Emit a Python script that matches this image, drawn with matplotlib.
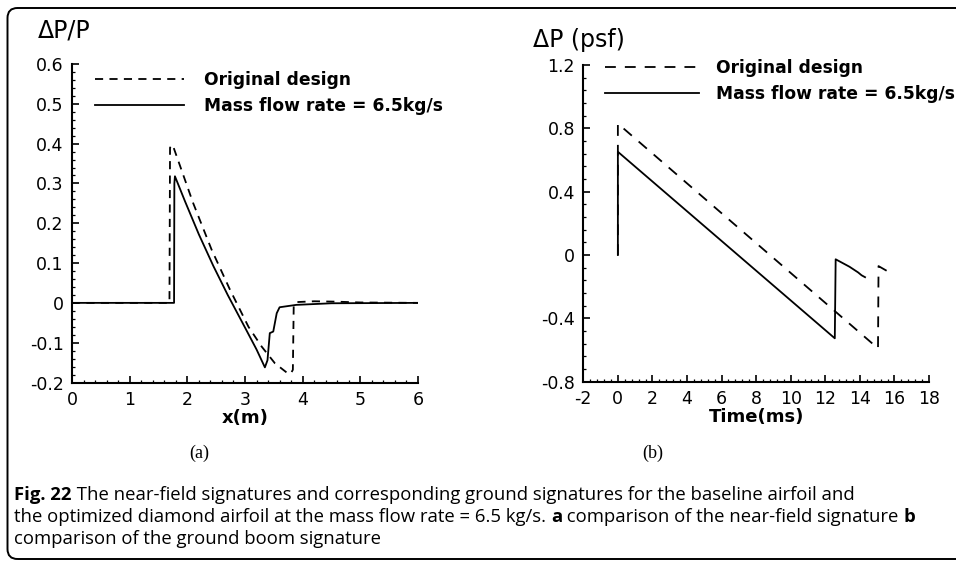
import numpy as np
import matplotlib
matplotlib.use("Agg")
import matplotlib.pyplot as plt
from matplotlib.patches import FancyBboxPatch
from matplotlib.ticker import MultipleLocator

#-------------------------------------
# Data
#-------------------------------------
# (a) near-field signature, dP/P vs x(m)
x_orig = [0, 1.69, 1.70, 1.745, 2.10, 2.42, 2.74, 3.06, 3.29, 3.52, 3.75, 3.80, 3.83, 3.845, 3.90, 4.2, 4.6, 5.0, 6.0]
p_orig = [0, 0, 0.39, 0.397, 0.251, 0.134, 0.033, -0.060, -0.110, -0.152, -0.178, -0.176, -0.168, -0.005, 0.002, 0.004, 0.003, 0.001, 0.0]

x_mass = [0, 1.77, 1.775, 1.785, 1.96, 2.2, 2.45, 2.7, 3.0, 3.2, 3.345, 3.39, 3.43, 3.46, 3.49, 3.55, 3.60, 3.89, 4.5, 6.0]
p_mass = [0, 0, 0.30, 0.318, 0.255, 0.172, 0.093, 0.02, -0.062, -0.117, -0.162, -0.144, -0.076, -0.074, -0.072, -0.026, -0.011, -0.005, -0.001, 0.0]

# (b) ground signature, dP (psf) vs time (ms)
t_orig = [0, 0, 15.0, 15.05, 15.08, 15.8]
dp_orig = [0, 0.83, -0.585, -0.59, -0.07, -0.115]

t_mass = [0, 0, 12.55, 12.6, 13.4, 13.9, 14.1, 14.3]
dp_mass = [0, 0.652, -0.526, -0.027, -0.074, -0.11, -0.128, -0.14]

labels = ["Original design", "Mass flow rate = 6.5kg/s"]

a_xticks = [0, 1, 2, 3, 4, 5, 6]
a_yticks = [-0.2, -0.1, 0, 0.1, 0.2, 0.3, 0.4, 0.5, 0.6]
a_ylabels = ["-0.2", "-0.1", "0", "0.1", "0.2", "0.3", "0.4", "0.5", "0.6"]

b_xticks = [-2, 0, 2, 4, 6, 8, 10, 12, 14, 16, 18]
b_yticks = [-0.8, -0.4, 0, 0.4, 0.8, 1.2]
b_ylabels = ["-0.8", "-0.4", "0", "0.4", "0.8", "1.2"]

caption = [
    [("Fig. 22", True), (" The near-field signatures and corresponding ground signatures for the baseline airfoil and", False)],
    [("the optimized diamond airfoil at the mass flow rate = 6.5 kg/s. ", False), ("a", True),
     (" comparison of the near-field signature ", False), ("b", True)],
    [("comparison of the ground boom signature", False)],
]

#-------------------------------------
# Figure
#-------------------------------------
W, H = 956, 562
fig = plt.figure(figsize=(W / 100, H / 100), dpi=100)

def px_axes(x0, y0, x1, y1):
    # pixel box (top-left origin) -> figure fraction
    return fig.add_axes([x0 / W, 1 - y1 / H, (x1 - x0) / W, (y1 - y0) / H])

ax1 = px_axes(72, 64, 418, 382.5)
ax2 = px_axes(583.3, 65, 929, 381.7)

lw = 1.3

ax1.plot(x_orig, p_orig, color="black", lw=lw, linestyle=(0, (4.5, 3.5)), label=labels[0])
ax1.plot(x_mass, p_mass, color="black", lw=lw, label=labels[1])
ax2.plot(t_orig, dp_orig, color="black", lw=lw, linestyle=(0, (6, 5)), label=labels[0])
ax2.plot(t_mass, dp_mass, color="black", lw=lw, label=labels[1])

ax1.set_xlim(0, 6)
ax1.set_ylim(-0.2, 0.6)
ax1.set_xticks(a_xticks)
ax1.set_yticks(a_yticks)
ax1.set_yticklabels(a_ylabels)
ax1.xaxis.set_minor_locator(MultipleLocator(0.2))
ax1.yaxis.set_minor_locator(MultipleLocator(0.02))

ax2.set_xlim(-2, 18)
ax2.set_ylim(-0.8, 1.2)
ax2.set_xticks(b_xticks)
ax2.set_xticklabels([str(t) for t in b_xticks])
ax2.set_yticks(b_yticks)
ax2.set_yticklabels(b_ylabels)
ax2.xaxis.set_minor_locator(MultipleLocator(0.4))
ax2.yaxis.set_minor_locator(MultipleLocator(0.08))

for ax in (ax1, ax2):
    ax.spines["top"].set_visible(False)
    ax.spines["right"].set_visible(False)
    ax.spines["left"].set_linewidth(1.5)
    ax.spines["bottom"].set_linewidth(1.5)
    ax.tick_params(which="major", direction="in", length=5, width=1.2, labelsize=12.5, pad=6)
    ax.tick_params(which="minor", direction="in", length=2.5, width=0.9)
    for lab in ax.get_xticklabels() + ax.get_yticklabels():
        lab.set_family("DejaVu Sans")

ax1.set_xlabel("x(m)", fontsize=13, fontweight="bold", family="DejaVu Sans", labelpad=0)
ax2.set_xlabel("Time(ms)", fontsize=13, fontweight="bold", family="DejaVu Sans", labelpad=0)

leg_kw = dict(loc="upper left", frameon=False, borderpad=0, borderaxespad=0,
              prop={"family": "DejaVu Sans", "weight": "bold", "size": 12.3}, labelspacing=0.45)
ax1.legend(bbox_to_anchor=(0.066, 0.978), handlelength=5.2, handletextpad=1.2, **leg_kw)
ax2.legend(bbox_to_anchor=(0.063, 1.018), handlelength=5.5, handletextpad=1.0, **leg_kw)

# axis titles above the y axes
fig.text(38 / W, 1 - 38 / H, "\u0394P/P", fontsize=17, family="DejaVu Sans", ha="left", va="baseline")
fig.text(533 / W, 1 - 47 / H, "\u0394P (psf)", fontsize=17, family="DejaVu Sans", ha="left", va="baseline")

# panel letters
fig.text(199 / W, 1 - 453 / H, "(a)", fontsize=13, family="Liberation Serif", ha="center", va="center")
fig.text(653 / W, 1 - 453 / H, "(b)", fontsize=13, family="Liberation Serif", ha="center", va="center")

# caption, drawn piece by piece so bold parts sit inline
renderer = fig.canvas.get_renderer()
line_y = [495, 517, 539]
for segs, yy in zip(caption, line_y):
    xx = 14
    for txt, bold in segs:
        t = fig.text(xx / W, 1 - yy / H, txt, fontsize=13.3, family="Open Sans",
                     fontweight="bold" if bold else "normal", ha="left", va="center")
        xx += t.get_window_extent(renderer).width

# rounded frame around the figure, open on the right
frame = FancyBboxPatch((0.075, 0.03), 10.0, 5.51, boxstyle="round,pad=0,rounding_size=0.1",
                       transform=fig.dpi_scale_trans, fill=False, edgecolor="black",
                       linewidth=1.4, clip_on=False)
fig.add_artist(frame)

fig.savefig("out.png", dpi=100)
